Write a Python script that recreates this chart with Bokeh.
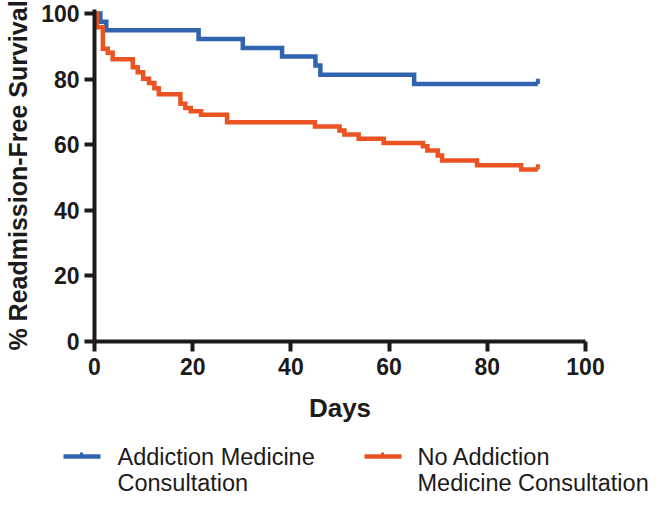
from bokeh.plotting import figure
from bokeh.models import Range1d, FixedTicker
from bokeh.layouts import column
from bokeh.core.properties import value
from bokeh.embed import file_html
from bokeh.resources import INLINE

# ---- data ----
series_names = ["Addiction Medicine\nConsultation", "No Addiction\nMedicine Consultation"]
blue_days = [0, 1.2, 2.4, 21.2, 30.2, 38.2, 45.0, 46.0, 65.1, 90.3]
blue_surv = [100, 97.5, 94.9, 92.2, 89.5, 86.9, 84.1, 81.3, 78.5, 78.5]
orange_days = [0, 0.5, 1.7, 2.7, 3.7, 7.8, 8.8, 9.9, 11.1, 12.2, 13.1, 17.5, 18.5,
               19.6, 21.7, 27.0, 44.9, 49.9, 50.9, 53.8, 58.9, 66.9, 67.8, 69.9,
               70.8, 77.9, 86.9, 90.3]
orange_surv = [100, 95.8, 89.2, 88.0, 86.0, 83.6, 82.1, 80.1, 78.8, 77.2, 75.4, 72.5,
               71.2, 70.2, 69.1, 66.8, 65.5, 64.3, 63.1, 61.8, 60.5, 59.5, 58.2, 56.7,
               55.2, 53.7, 52.4, 52.4]
censor_blue = [90.3]
censor_blue_surv = [78.5]
censor_orange = [90.3]
censor_orange_surv = [52.4]
x_ticks = [0, 20, 40, 60, 80, 100]
y_ticks = [0, 20, 40, 60, 80, 100]

BLUE = "#3164ae"
ORANGE = "#eb5322"
INK = "#1c1a1a"
FONT = "Liberation Sans"

W = 654
LEFT, FW = 94, 491
TOP, FH = 9, 332
PH = 431          # main plot height
LH = 496 - PH     # legend strip height
YMAX = 101.2

p = figure(width=W, height=PH, output_backend="svg", toolbar_location=None,
           x_range=Range1d(0, 100), y_range=Range1d(0, YMAX),
           min_border_left=LEFT, min_border_right=W - LEFT - FW, min_border_top=TOP,
           min_border_bottom=PH - TOP - FH)
p.frame_align = False
p.outline_line_color = None
p.grid.visible = False

p.step(blue_days, blue_surv, mode="after", line_color=BLUE, line_width=4.5,
       line_join="miter")
p.step(orange_days, orange_surv, mode="after", line_color=ORANGE, line_width=4.5,
       line_join="miter")
p.segment(x0=censor_blue, y0=censor_blue_surv, x1=censor_blue,
          y1=[v + 1.6 for v in censor_blue_surv], line_color=BLUE, line_width=4)
p.segment(x0=censor_orange, y0=censor_orange_surv, x1=censor_orange,
          y1=[v + 1.6 for v in censor_orange_surv], line_color=ORANGE, line_width=4)

for ax in (p.xaxis[0], p.yaxis[0]):
    ax.axis_line_width = 4
    ax.axis_line_color = INK
    ax.major_tick_line_width = 4
    ax.major_tick_line_color = INK
    ax.major_tick_out = 10
    ax.major_tick_in = 0
    ax.minor_tick_line_color = None
    ax.major_label_text_font = FONT
    ax.major_label_text_font_style = "bold"
    ax.major_label_text_font_size = "23px"
    ax.major_label_text_color = INK
    ax.axis_label_text_font = FONT
    ax.axis_label_text_font_style = "bold"
    ax.axis_label_text_color = INK

p.xaxis[0].ticker = FixedTicker(ticks=x_ticks)
p.yaxis[0].ticker = FixedTicker(ticks=y_ticks)
p.xaxis[0].axis_label = "Days"
p.xaxis[0].axis_label_text_font_size = "26px"
p.xaxis[0].major_label_standoff = 6
p.xaxis[0].axis_label_standoff = 15
p.yaxis[0].axis_label = "% Readmission-Free Survival"
p.yaxis[0].axis_label_text_font_size = "25px"
p.yaxis[0].major_label_standoff = 5
p.yaxis[0].axis_label_standoff = 6

# ---- legend strip (its own figure, pixel coordinates) ----
lg = figure(width=W, height=LH, output_backend="svg", toolbar_location=None,
            x_range=Range1d(0, W), y_range=Range1d(LH, 0), min_border=0)
lg.frame_align = False
lg.outline_line_color = None
lg.grid.visible = False
lg.axis.visible = False

legend_line_x = [63, 364]
legend_text_x = [117, 417]
row_y = [25, 51]
colors = [BLUE, ORANGE]
for lx, tx, c, name in zip(legend_line_x, legend_text_x, colors, series_names):
    lg.line([lx, lx + 37], [row_y[0], row_y[0]], line_color=c, line_width=4.5)
    lg.segment(x0=[lx + 18], y0=[row_y[0]], x1=[lx + 18], y1=[row_y[0] - 4],
               line_color=c, line_width=3)
    lines = name.split("\n")
    lg.text(x=[tx] * len(lines), y=row_y[:len(lines)], text=lines,
            text_font=value(FONT), text_font_size="23.5px",
            text_baseline="middle", text_align="left", text_color=INK)

layout = column(p, lg, spacing=0)
open("out.html", "w").write(file_html(layout, INLINE))
